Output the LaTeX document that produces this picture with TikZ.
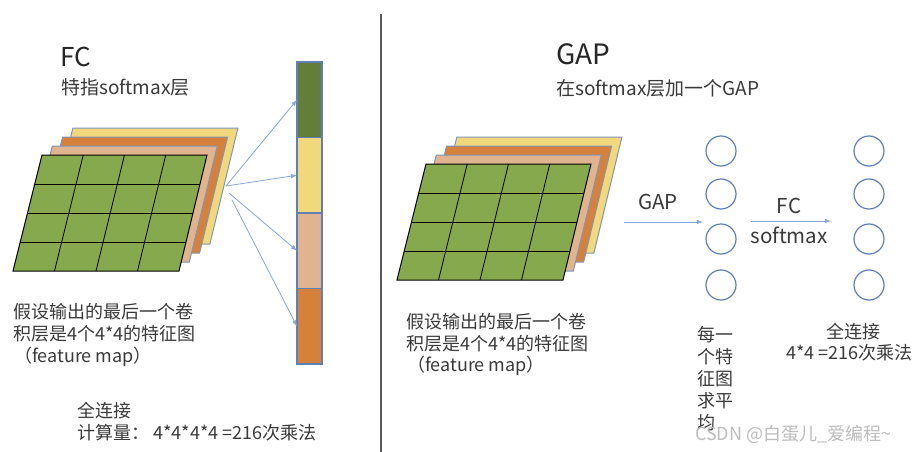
\documentclass[tikz,border=0pt]{standalone}
\usepackage{fontspec}
\setmainfont{Noto Sans CJK SC}
\usetikzlibrary{arrows.meta,calc}
\definecolor{cyel}{HTML}{F2D87C}
\definecolor{corg}{HTML}{D5813C}
\definecolor{ctan}{HTML}{E0B48E}
\definecolor{cgrn}{HTML}{86A94D}
\definecolor{cdgrn}{HTML}{637E3A}
\definecolor{cedge}{HTML}{7F96B8}
\definecolor{carrow}{HTML}{87A6D6}
\definecolor{ccirc}{HTML}{5E80B4}
\definecolor{ctext}{HTML}{3A3A3A}
\definecolor{cwm}{HTML}{BDBDBD}
\tikzset{
  layer/.style={draw=cedge,line width=1pt,line join=miter},
  front/.style={draw=black,line width=1pt,fill=cgrn},
  gridline/.style={draw=black,line width=0.8pt},
  barseg/.style={draw=ccirc,line width=1.3pt,minimum width=25pt,minimum height=75.5pt,inner sep=0pt,outer sep=0pt},
  neuron/.style={circle,draw=ccirc,line width=1.2pt,minimum size=30pt,inner sep=0pt},
  conn/.style={draw=carrow,line width=0.8pt,-{Latex[length=6pt,width=4.5pt]}},
  txt/.style={inner sep=0pt,anchor=west,text=ctext,font=\fontsize{18}{22}\selectfont},
  title/.style={inner sep=0pt,anchor=west,text=black!85,font=\fontsize{26}{30}\selectfont},
  subtitle/.style={inner sep=0pt,anchor=west,text=ctext,font=\fontsize{19}{23}\selectfont},
  lbl/.style={inner sep=0pt,text=ctext,font=\fontsize{20.5}{24}\selectfont},
}
\newcommand\fmstack[2]{%
  \begin{scope}[shift={(#1,#2)}]
    \foreach \k/\col in {3/cyel,2/corg,1/ctan}{
      \begin{scope}[shift={({10.3*\k},{-9*\k})}]
        \filldraw[layer,fill=\col] (42,155) -- (207,155) -- (179,271) -- (13,271) -- cycle;
      \end{scope}
    }
    \filldraw[front] (42,155) -- (207,155) -- (179,271) -- (13,271) -- cycle;
    \foreach \i in {1,2,3}{
      \draw[gridline] ($(42,155)!\i/4!(13,271)$) -- ($(207,155)!\i/4!(179,271)$);
      \draw[gridline] ($(42,155)!\i/4!(207,155)$) -- ($(13,271)!\i/4!(179,271)$);
    }
  \end{scope}}
\begin{document}
\begin{tikzpicture}[x=1pt,y=-1pt]
\useasboundingbox (0,0) rectangle (923,452);
\fill[white] (0,0) rectangle (923,452);

% divider
\draw[line width=1.2pt,draw=black!65] (381,14) -- (381,452);

% ---------- left: FC ----------
\node[title] (fct) at (60,57) {FC};
\node[subtitle] (fcs) at (61,87) {特指softmax层};

\fmstack{0}{0}

\node[barseg,fill=cdgrn,anchor=north west] (b1) at (297,62) {};
\node[barseg,fill=cyel,anchor=north] (b2) at (b1.south) {};
\node[barseg,fill=ctan,anchor=north] (b3) at (b2.south) {};
\node[barseg,fill=corg,anchor=north] (b4) at (b3.south) {};

\coordinate (src1) at (226,186);
\coordinate (src2) at (229,193);
\coordinate (src3) at (232,200);
\draw[conn] (src1) -- (b1.west);
\draw[conn] (src1) -- (b2.west);
\draw[conn] (src2) -- (b3.west);
\draw[conn] (src3) -- (b4.west);

\node[txt] (l1) at (13,312) {假设输出的最后一个卷};
\node[txt] (l2) at (13,334) {积层是4个4*4的特征图};
\node[txt] (l3) at (14,357) {（feature map）};
\node[txt] (l4) at (77,411) {全连接};
\node[txt] (l5) at (77,433) {计算量：\ 4*4*4*4 =216次乘法};

% ---------- right: GAP ----------
\node[title,font=\fontsize{28}{32}\selectfont] (gapt) at (556,54) {GAP};
\node[subtitle] (gaps) at (556,88) {在softmax层加一个GAP};

\fmstack{384}{9}

\node[txt] (r1) at (406,322) {假设输出的最后一个卷};
\node[txt] (r2) at (406,344) {积层是4个4*4的特征图};
\node[txt] (r3) at (407,366) {（feature map）};

\foreach \n/\y in {1/151,2/194,3/239,4/285}{
  \node[neuron] (c\n) at (721,\y) {};
  \node[neuron] (d\n) at (869,\y) {};
}

\coordinate (gapfrom) at (624,222);
\coordinate (gapto) at (703,222);
\draw[conn] (gapfrom) -- (gapto);
\node[lbl] (gapl) at (658,202) {GAP};

\coordinate (fcfrom) at (751,221);
\coordinate (fcto) at (831,221);
\draw[conn] (fcfrom) -- (fcto);
\node[lbl] (fcl) at (789,206) {FC};
\node[lbl] (fcl2) at (789,235) {softmax};

\node[txt] (g1) at (697,335) {每一};
\node[txt] (g2) at (697,357) {个特};
\node[txt] (g3) at (697,379) {征图};
\node[txt] (g4) at (697,401) {求平};
\node[txt] (g5) at (697,423) {均};

\node[txt,anchor=center] (q1) at (853,332) {全连接};
\node[txt] (q2) at (786,353) {4*4 =216次乘法};

\node[txt,text=cwm] (wm) at (695,434) {CSDN @白蛋儿\_爱编程\textasciitilde};
\end{tikzpicture}
\end{document}
